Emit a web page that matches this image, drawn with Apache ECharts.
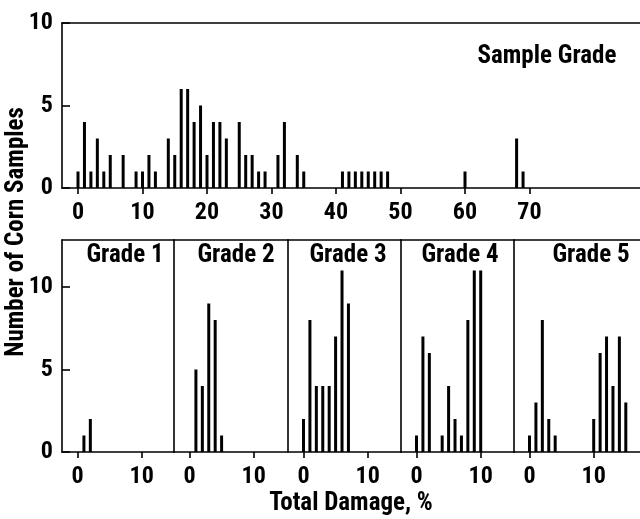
<!DOCTYPE html>
<html>
<head>
<meta charset="utf-8">
<script src="https://cdn.jsdelivr.net/npm/echarts@6/dist/echarts.min.js"></script>
<style>html,body{margin:0;padding:0;background:#fff}#c{width:640px;height:519px}</style>
</head>
<body>
<div id="c"></div>
<script>
// ---- data ----
const sampleDamage = [0,1,2,3,4,5,7,9,10,11,12,14,15,16,17,18,19,20,21,22,23,25,26,27,28,29,31,32,34,35,41,42,43,44,45,46,47,48,60,68,69];
const sampleCounts = [1,4,1,3,1,2,2,1,1,2,1,3,2,6,6,4,5,2,4,4,3,4,2,2,1,1,2,4,2,1,1,1,1,1,1,1,1,1,1,3,1];
const grade1Damage = [1,2];
const grade1Counts = [1,2];
const grade2Damage = [1,2,3,4,5];
const grade2Counts = [5,4,9,8,1];
const grade3Damage = [0,1,2,3,4,5,6,7];
const grade3Counts = [2,8,4,4,4,7,11,9];
const grade4Damage = [0,1,2,4,5,6,7,8,9,10];
const grade4Counts = [1,7,6,1,4,2,1,8,11,11];
const grade5Damage = [0,1,2,3,4,10,11,12,13,14,15];
const grade5Counts = [1,3,8,2,1,2,6,7,4,7,3];
const gradeNames = ['Grade 1','Grade 2','Grade 3','Grade 4','Grade 5'];
const topTicks = [0,10,20,30,40,50,60,70];
const bottomTicks = [0,10];
const yTicks = [0,5,10];
const yAxisTitle = 'Number of Corn Samples';
const xAxisTitle = 'Total Damage, %';
const topTitle = 'Sample Grade';

const FONT = '"Roboto Condensed","Open Sans",sans-serif';
const grades = [
  [grade1Damage, grade1Counts],[grade2Damage, grade2Counts],[grade3Damage, grade3Counts],
  [grade4Damage, grade4Counts],[grade5Damage, grade5Counts]
];
const zip = (a,b)=>a.map((v,i)=>[v,b[i]]);

const lineStyle = {color:'#000', width:1.6};
const labelStyle = {color:'#000', fontFamily:FONT, fontWeight:'bold', fontSize:24};

const grid = [], xAxis = [], yAxis = [], series = [], graphic = [];

// top panel
const TOPPX = 6.45;
const topMin = -16/TOPPX;
grid.push({left:62, top:23, width:578, height:165});
xAxis.push({type:'value', gridIndex:0, position:'bottom', min:topMin, max:topMin+578/TOPPX,
  axisLine:{show:true, onZero:false, lineStyle},
  axisTick:{show:true, length:6, customValues:topTicks, lineStyle},
  axisLabel:{show:true, customValues:topTicks, margin:13, ...labelStyle},
  splitLine:{show:false}});
xAxis.push({type:'value', gridIndex:0, position:'top', min:topMin, max:topMin+578/TOPPX,
  axisLine:{show:true, onZero:false, lineStyle}, axisTick:{show:false}, axisLabel:{show:false}, splitLine:{show:false}});
yAxis.push({type:'value', gridIndex:0, min:0, max:10, position:'left',
  axisLine:{show:true, onZero:false, lineStyle},
  axisTick:{show:true, inside:true, length:8, customValues:yTicks, lineStyle},
  axisLabel:{show:true, customValues:yTicks, margin:9, ...labelStyle},
  splitLine:{show:false}});
series.push({type:'bar', xAxisIndex:0, yAxisIndex:0, barWidth:3, data:zip(sampleDamage, sampleCounts),
  itemStyle:{color:'#000'}, silent:true});

// bottom panels
const edges = [62,174,288,401,514,640];
const BPX = 6.42;
const bMin = -15.5/BPX;
const bTop = 240, bH = 212;
const bMax = bH/16.5;
for (let i=0;i<5;i++){
  const w = edges[i+1]-edges[i];
  const gi = i+1;
  grid.push({left:edges[i], top:bTop, width:w, height:bH});
  xAxis.push({type:'value', gridIndex:gi, position:'bottom', min:bMin, max:bMin+w/BPX,
    axisLine:{show:true, onZero:false, lineStyle},
    axisTick:{show:true, length:6, customValues:bottomTicks, lineStyle},
    axisLabel:{show:true, customValues:bottomTicks, margin:13, ...labelStyle},
    splitLine:{show:false}});
  xAxis.push({type:'value', gridIndex:gi, position:'top', min:bMin, max:bMin+w/BPX,
    axisLine:{show:true, onZero:false, lineStyle}, axisTick:{show:false}, axisLabel:{show:false}, splitLine:{show:false}});
  yAxis.push({type:'value', gridIndex:gi, min:0, max:bMax, position:'left',
    axisLine:{show:true, onZero:false, lineStyle},
    axisTick:{show:i===0, inside:true, length:8, customValues:yTicks, lineStyle},
    axisLabel:{show:i===0, customValues:yTicks, margin:9, ...labelStyle},
    splitLine:{show:false}});
  series.push({type:'bar', xAxisIndex:2*gi, yAxisIndex:gi, barWidth:3, data:zip(grades[i][0], grades[i][1]),
    itemStyle:{color:'#000'}, silent:true});
}

const TFONT = 'bold 25px ' + FONT;
const gradeCenters = [125,236,348,460,591];
gradeNames.forEach((t,i)=>{
  graphic.push({type:'text', x:gradeCenters[i], y:256, style:{text:t, fill:'#000', font:TFONT, textAlign:'center', textVerticalAlign:'middle'}});
});
graphic.push({type:'text', x:547, y:57, style:{text:topTitle, fill:'#000', font:TFONT, textAlign:'center', textVerticalAlign:'middle'}});
graphic.push({type:'text', x:351, y:504, style:{text:xAxisTitle, fill:'#000', font:TFONT, textAlign:'center', textVerticalAlign:'middle'}});
graphic.push({type:'text', x:17, y:232, rotation:Math.PI/2, style:{text:yAxisTitle, fill:'#000', font:TFONT, textAlign:'center', textVerticalAlign:'middle'}});

const chart = echarts.init(document.getElementById('c'), null, {renderer:'canvas'});
chart.setOption({animation:false, backgroundColor:'#fff', grid, xAxis, yAxis, series, graphic});
</script>
</body>
</html>
